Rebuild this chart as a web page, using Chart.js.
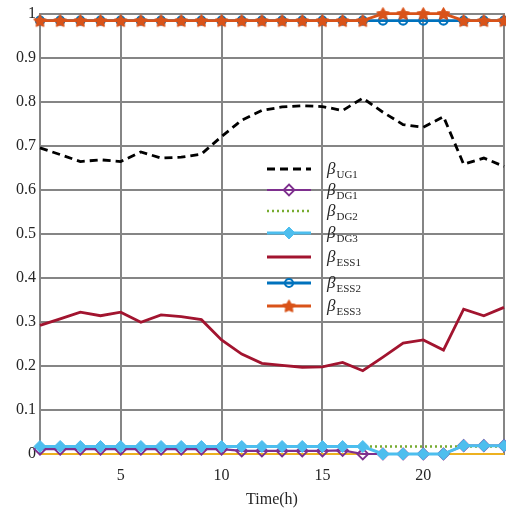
<!DOCTYPE html>
<html>
<head>
<meta charset="utf-8">
<title>beta vs time</title>
<script src="https://cdn.jsdelivr.net/npm/chart.js@4.4.1/dist/chart.umd.min.js"></script>
<style>
  html, body { margin: 0; padding: 0; background: #fff; }
  #chart { display: block; }
</style>
</head>
<body>
<canvas id="chart" width="506" height="514"></canvas>
<script>
// ---- DATA ----
const hours = [1, 2, 3, 4, 5, 6, 7, 8, 9, 10, 11, 12, 13, 14, 15, 16, 17, 18, 19, 20, 21, 22, 23, 24];
const xTicks = [5, 10, 15, 20];
const yTicks = [0, 0.1, 0.2, 0.3, 0.4, 0.5, 0.6, 0.7, 0.8, 0.9, 1];
const yTickLabels = ['0', '0.1', '0.2', '0.3', '0.4', '0.5', '0.6', '0.7', '0.8', '0.9', '1'];

const ug1 = [0.695, 0.680, 0.664, 0.668, 0.664, 0.686, 0.672, 0.674, 0.681, 0.721, 0.758, 0.780,
             0.788, 0.791, 0.789, 0.780, 0.808, 0.776, 0.748, 0.742, 0.766, 0.658, 0.672, 0.653];
const dg1 = [0.011, 0.011, 0.011, 0.011, 0.011, 0.011, 0.011, 0.011, 0.011, 0.011, 0.007, 0.007,
             0.007, 0.007, 0.007, 0.008, 0, 0, 0, 0, 0, 0.019, 0.019, 0.019];
const dg2 = [0.017, 0.017, 0.017, 0.017, 0.017, 0.017, 0.017, 0.017, 0.017, 0.017, 0.017, 0.017,
             0.017, 0.017, 0.017, 0.017, 0.017, 0.017, 0.017, 0.017, 0.017, 0.017, 0.017, 0.017];
const dg3 = [0.017, 0.017, 0.017, 0.017, 0.017, 0.017, 0.017, 0.017, 0.017, 0.017, 0.017, 0.017,
             0.017, 0.017, 0.017, 0.017, 0.017, 0, 0, 0, 0, 0.019, 0.019, 0.019];
const ess1 = [0.292, 0.307, 0.322, 0.314, 0.322, 0.299, 0.316, 0.312, 0.305, 0.259, 0.227, 0.206,
              0.201, 0.197, 0.198, 0.208, 0.189, 0.220, 0.252, 0.259, 0.236, 0.329, 0.314, 0.333];
const ess2 = [0.984, 0.984, 0.984, 0.984, 0.984, 0.984, 0.984, 0.984, 0.984, 0.984, 0.984, 0.984,
              0.984, 0.984, 0.984, 0.984, 0.984, 0.984, 0.984, 0.984, 0.984, 0.984, 0.984, 0.984];
const ess3 = [0.984, 0.984, 0.984, 0.984, 0.984, 0.984, 0.984, 0.984, 0.984, 0.984, 0.984, 0.984,
              0.984, 0.984, 0.984, 0.984, 0.984, 1, 1, 1, 1, 0.984, 0.984, 0.984];
const zeroLine = [0, 0, 0, 0, 0, 0, 0, 0, 0, 0, 0, 0, 0, 0, 0, 0, 0, 0, 0, 0, 0, 0, 0, 0];

// ---- STYLE ----
const GRID = '#858585';
const TXT = '#262626';
const SERIF = '"Liberation Serif", "Times New Roman", serif';
const FONT = { family: SERIF, size: 16 };
const COL = {
    ug1: '#000000', dg1: '#7E2F8E', dg2: '#77AC30', dg3: '#4DBEEE',
    ess1: '#A2142F', ess2: '#0072BD', ess3: '#D95319', zero: '#EDB120',
};

// filled five point star used as the ESS3 marker
function starPath(ctx, cx, cy, ro, ri) {
    ctx.beginPath();
    for (let i = 0; i < 10; i++) {
        const r = i % 2 ? ri : ro;
        const a = -Math.PI / 2 + i * Math.PI / 5;
        ctx.lineTo(cx + r * Math.cos(a), cy + r * Math.sin(a));
    }
    ctx.closePath();
}
const starImg = document.createElement('canvas');
starImg.width = 15; starImg.height = 15;
(() => {
    const c = starImg.getContext('2d');
    starPath(c, 7.5, 8, 6.3, 3.4);
    c.fillStyle = COL.ess3; c.fill();
    c.strokeStyle = COL.ess3; c.lineWidth = 1.2; c.lineJoin = 'round'; c.stroke();
})();

const pts = arr => hours.map((h, i) => ({ x: h, y: arr[i] }));

function line(label, arr, color, extra) {
    return Object.assign({ label, data: pts(arr), borderColor: color, backgroundColor: color,
        borderWidth: 2.5, pointRadius: 0, fill: false, tension: 0, clip: false }, extra);
}

const datasets = [
    line('', zeroLine, COL.zero, { borderWidth: 2, order: 8 }),
    line('UG1', ug1, COL.ug1, { borderWidth: 2.8, borderDash: [8, 5], order: 7 }),
    line('DG1', dg1, COL.dg1, { borderWidth: 2.2, pointStyle: 'rectRot', pointRadius: 5.5,
        pointBorderWidth: 1.8, pointBackgroundColor: 'rgba(0,0,0,0)', order: 6 }),
    line('DG2', dg2, COL.dg2, { borderWidth: 2.5, borderDash: [2, 3], order: 5 }),
    line('DG3', dg3, COL.dg3, { borderWidth: 3, pointStyle: 'rectRot', pointRadius: 6,
        pointBorderWidth: 1, order: 4 }),
    line('ESS1', ess1, COL.ess1, { borderWidth: 2.8, order: 3 }),
    line('ESS2', ess2, COL.ess2, { borderWidth: 2.8, pointStyle: 'circle', pointRadius: 4,
        pointBorderWidth: 2.2, pointBackgroundColor: 'rgba(0,0,0,0)', order: 2 }),
    line('ESS3', ess3, COL.ess3, { borderWidth: 2.8, pointStyle: starImg, pointRadius: 5, order: 1 }),
];

// ---- PLUGINS ----
const boxPlugin = {
    id: 'box',
    beforeDatasetsDraw(chart) {
        const { ctx, chartArea: a } = chart;
        ctx.save();
        ctx.strokeStyle = GRID; ctx.lineWidth = 2;
        ctx.strokeRect(Math.round(a.left), Math.round(a.top),
                       Math.round(a.right - a.left), Math.round(a.bottom - a.top));
        ctx.restore();
    }
};

// legend rows: sample line y positions in px
const LEG = { x0: 267, x1: 311, tx: 327, rows: [169, 190, 211, 233, 257, 283, 306] };

function legendMarker(ctx, ds, x, y) {
    ctx.save();
    ctx.strokeStyle = ds.borderColor;
    ctx.fillStyle = ds.borderColor;
    if (ds.pointStyle === 'rectRot') {
        const r = ds.pointRadius;
        ctx.beginPath();
        ctx.moveTo(x, y - r); ctx.lineTo(x + r, y); ctx.lineTo(x, y + r); ctx.lineTo(x - r, y);
        ctx.closePath();
        ctx.lineWidth = ds.pointBorderWidth;
        if (ds.pointBackgroundColor !== 'rgba(0,0,0,0)') ctx.fill();
        ctx.stroke();
    } else if (ds.pointStyle === 'circle') {
        ctx.beginPath(); ctx.arc(x, y, ds.pointRadius, 0, Math.PI * 2);
        ctx.lineWidth = ds.pointBorderWidth; ctx.stroke();
    } else if (ds.pointStyle === starImg) {
        ctx.drawImage(starImg, x - starImg.width / 2, y - starImg.height / 2);
    }
    ctx.restore();
}

const legendPlugin = {
    id: 'betaLegend',
    afterDraw(chart) {
        const ctx = chart.ctx;
        const items = chart.data.datasets.filter(d => d.label);
        items.forEach((ds, i) => {
            const y = LEG.rows[i];
            ctx.save();
            ctx.strokeStyle = ds.borderColor;
            ctx.lineWidth = ds.borderWidth;
            ctx.setLineDash(ds.borderDash || []);
            ctx.beginPath(); ctx.moveTo(LEG.x0, y); ctx.lineTo(LEG.x1, y); ctx.stroke();
            ctx.restore();
            legendMarker(ctx, ds, (LEG.x0 + LEG.x1) / 2, y);

            ctx.save();
            ctx.fillStyle = TXT;
            ctx.textBaseline = 'alphabetic';
            ctx.font = 'italic 17px ' + SERIF;
            ctx.fillText('\u03B2', LEG.tx, y + 5);
            const w = ctx.measureText('\u03B2').width;
            ctx.font = '11px ' + SERIF;
            ctx.fillText(ds.label, LEG.tx + w + 1, y + 9);
            ctx.restore();
        });
    }
};

// ---- CHART ----
new Chart(document.getElementById('chart'), {
    type: 'line',
    data: { datasets },
    plugins: [boxPlugin, legendPlugin],
    options: {
        responsive: false, animation: false, devicePixelRatio: 1,
        layout: { autoPadding: false, padding: { top: 13, right: 2, left: 0, bottom: 0 } },
        plugins: { legend: { display: false }, tooltip: { enabled: false } },
        scales: {
            x: {
                type: 'linear', min: 1, max: 24,
                afterBuildTicks: s => { s.ticks = xTicks.map(v => ({ value: v })); },
                afterFit: s => { s.height = 60; },
                grid: { color: GRID, lineWidth: 2, drawTicks: false },
                border: { color: GRID, width: 2 },
                ticks: { font: FONT, color: TXT, padding: 12, maxRotation: 0, autoSkip: false,
                         callback: v => String(v) },
                title: { display: true, text: 'Time(h)', font: FONT, color: TXT,
                         padding: { top: 0, bottom: 5 } },
            },
            y: {
                min: 0, max: 1,
                afterBuildTicks: s => { s.ticks = yTicks.map(v => ({ value: v })); },
                afterFit: s => { s.width = 40; },
                grid: { color: GRID, lineWidth: 2, drawTicks: false },
                border: { color: GRID, width: 2 },
                ticks: { font: FONT, color: TXT, padding: 4, autoSkip: false,
                         callback: (v, i) => yTickLabels[i] },
            },
        },
    },
});
</script>
</body>
</html>
